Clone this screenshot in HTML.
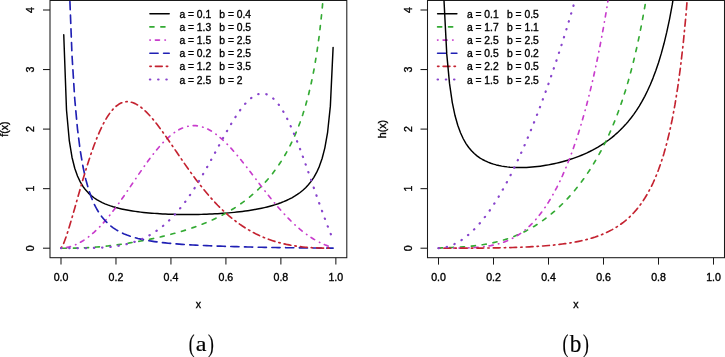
<!DOCTYPE html>
<html><head><meta charset="utf-8"><style>
html,body{margin:0;padding:0;background:#fff;}
svg{display:block;will-change:transform;}
</style></head><body>
<svg width="725" height="357" viewBox="0 0 725 357">
<rect width="725" height="357" fill="#fff"/>
<rect x="50" y="0.47" width="296.8" height="257.23" fill="none" stroke="#1a1a1a" stroke-width="1.05"/>
<line x1="61" y1="257.7" x2="61" y2="264.6" stroke="#1a1a1a" stroke-width="1.05"/>
<text x="61" y="281.3" font-family="'Liberation Sans', sans-serif" font-size="10.6" text-anchor="middle" stroke="#000" stroke-width="0.35">0.0</text>
<line x1="115.97" y1="257.7" x2="115.97" y2="264.6" stroke="#1a1a1a" stroke-width="1.05"/>
<text x="115.97" y="281.3" font-family="'Liberation Sans', sans-serif" font-size="10.6" text-anchor="middle" stroke="#000" stroke-width="0.35">0.2</text>
<line x1="170.94" y1="257.7" x2="170.94" y2="264.6" stroke="#1a1a1a" stroke-width="1.05"/>
<text x="170.94" y="281.3" font-family="'Liberation Sans', sans-serif" font-size="10.6" text-anchor="middle" stroke="#000" stroke-width="0.35">0.4</text>
<line x1="225.91" y1="257.7" x2="225.91" y2="264.6" stroke="#1a1a1a" stroke-width="1.05"/>
<text x="225.91" y="281.3" font-family="'Liberation Sans', sans-serif" font-size="10.6" text-anchor="middle" stroke="#000" stroke-width="0.35">0.6</text>
<line x1="280.88" y1="257.7" x2="280.88" y2="264.6" stroke="#1a1a1a" stroke-width="1.05"/>
<text x="280.88" y="281.3" font-family="'Liberation Sans', sans-serif" font-size="10.6" text-anchor="middle" stroke="#000" stroke-width="0.35">0.8</text>
<line x1="335.85" y1="257.7" x2="335.85" y2="264.6" stroke="#1a1a1a" stroke-width="1.05"/>
<text x="335.85" y="281.3" font-family="'Liberation Sans', sans-serif" font-size="10.6" text-anchor="middle" stroke="#000" stroke-width="0.35">1.0</text>
<line x1="50" y1="248.2" x2="43" y2="248.2" stroke="#1a1a1a" stroke-width="1.05"/>
<text x="34.4" y="248.2" font-family="'Liberation Sans', sans-serif" font-size="10.6" text-anchor="middle" stroke="#000" stroke-width="0.35" transform="rotate(-90 34.4 248.2)">0</text>
<line x1="50" y1="188.65" x2="43" y2="188.65" stroke="#1a1a1a" stroke-width="1.05"/>
<text x="34.4" y="188.65" font-family="'Liberation Sans', sans-serif" font-size="10.6" text-anchor="middle" stroke="#000" stroke-width="0.35" transform="rotate(-90 34.4 188.65)">1</text>
<line x1="50" y1="129.1" x2="43" y2="129.1" stroke="#1a1a1a" stroke-width="1.05"/>
<text x="34.4" y="129.1" font-family="'Liberation Sans', sans-serif" font-size="10.6" text-anchor="middle" stroke="#000" stroke-width="0.35" transform="rotate(-90 34.4 129.1)">2</text>
<line x1="50" y1="69.55" x2="43" y2="69.55" stroke="#1a1a1a" stroke-width="1.05"/>
<text x="34.4" y="69.55" font-family="'Liberation Sans', sans-serif" font-size="10.6" text-anchor="middle" stroke="#000" stroke-width="0.35" transform="rotate(-90 34.4 69.55)">3</text>
<line x1="50" y1="10" x2="43" y2="10" stroke="#1a1a1a" stroke-width="1.05"/>
<text x="34.4" y="10" font-family="'Liberation Sans', sans-serif" font-size="10.6" text-anchor="middle" stroke="#000" stroke-width="0.35" transform="rotate(-90 34.4 10)">4</text>
<text x="198.4" y="308" font-family="'Liberation Sans', sans-serif" font-size="10.6" text-anchor="middle" stroke="#000" stroke-width="0.35">x</text>
<text x="8.5" y="129.09" font-family="'Liberation Sans', sans-serif" font-size="10.6" text-anchor="middle" stroke="#000" stroke-width="0.35" transform="rotate(-90 8.5 129.09)">f(x)</text>
<rect x="427.5" y="0.47" width="297" height="257.23" fill="none" stroke="#1a1a1a" stroke-width="1.05"/>
<line x1="438.5" y1="257.7" x2="438.5" y2="264.6" stroke="#1a1a1a" stroke-width="1.05"/>
<text x="438.5" y="281.3" font-family="'Liberation Sans', sans-serif" font-size="10.6" text-anchor="middle" stroke="#000" stroke-width="0.35">0.0</text>
<line x1="493.5" y1="257.7" x2="493.5" y2="264.6" stroke="#1a1a1a" stroke-width="1.05"/>
<text x="493.5" y="281.3" font-family="'Liberation Sans', sans-serif" font-size="10.6" text-anchor="middle" stroke="#000" stroke-width="0.35">0.2</text>
<line x1="548.5" y1="257.7" x2="548.5" y2="264.6" stroke="#1a1a1a" stroke-width="1.05"/>
<text x="548.5" y="281.3" font-family="'Liberation Sans', sans-serif" font-size="10.6" text-anchor="middle" stroke="#000" stroke-width="0.35">0.4</text>
<line x1="603.5" y1="257.7" x2="603.5" y2="264.6" stroke="#1a1a1a" stroke-width="1.05"/>
<text x="603.5" y="281.3" font-family="'Liberation Sans', sans-serif" font-size="10.6" text-anchor="middle" stroke="#000" stroke-width="0.35">0.6</text>
<line x1="658.5" y1="257.7" x2="658.5" y2="264.6" stroke="#1a1a1a" stroke-width="1.05"/>
<text x="658.5" y="281.3" font-family="'Liberation Sans', sans-serif" font-size="10.6" text-anchor="middle" stroke="#000" stroke-width="0.35">0.8</text>
<line x1="713.5" y1="257.7" x2="713.5" y2="264.6" stroke="#1a1a1a" stroke-width="1.05"/>
<text x="713.5" y="281.3" font-family="'Liberation Sans', sans-serif" font-size="10.6" text-anchor="middle" stroke="#000" stroke-width="0.35">1.0</text>
<line x1="427.5" y1="248.2" x2="420.5" y2="248.2" stroke="#1a1a1a" stroke-width="1.05"/>
<text x="411.9" y="248.2" font-family="'Liberation Sans', sans-serif" font-size="10.6" text-anchor="middle" stroke="#000" stroke-width="0.35" transform="rotate(-90 411.9 248.2)">0</text>
<line x1="427.5" y1="188.65" x2="420.5" y2="188.65" stroke="#1a1a1a" stroke-width="1.05"/>
<text x="411.9" y="188.65" font-family="'Liberation Sans', sans-serif" font-size="10.6" text-anchor="middle" stroke="#000" stroke-width="0.35" transform="rotate(-90 411.9 188.65)">1</text>
<line x1="427.5" y1="129.1" x2="420.5" y2="129.1" stroke="#1a1a1a" stroke-width="1.05"/>
<text x="411.9" y="129.1" font-family="'Liberation Sans', sans-serif" font-size="10.6" text-anchor="middle" stroke="#000" stroke-width="0.35" transform="rotate(-90 411.9 129.1)">2</text>
<line x1="427.5" y1="69.55" x2="420.5" y2="69.55" stroke="#1a1a1a" stroke-width="1.05"/>
<text x="411.9" y="69.55" font-family="'Liberation Sans', sans-serif" font-size="10.6" text-anchor="middle" stroke="#000" stroke-width="0.35" transform="rotate(-90 411.9 69.55)">3</text>
<line x1="427.5" y1="10" x2="420.5" y2="10" stroke="#1a1a1a" stroke-width="1.05"/>
<text x="411.9" y="10" font-family="'Liberation Sans', sans-serif" font-size="10.6" text-anchor="middle" stroke="#000" stroke-width="0.35" transform="rotate(-90 411.9 10)">4</text>
<text x="576" y="308" font-family="'Liberation Sans', sans-serif" font-size="10.6" text-anchor="middle" stroke="#000" stroke-width="0.35">x</text>
<text x="386" y="129.09" font-family="'Liberation Sans', sans-serif" font-size="10.6" text-anchor="middle" stroke="#000" stroke-width="0.35" transform="rotate(-90 386 129.09)">h(x)</text>
<line x1="149.9" y1="13.8" x2="169.2" y2="13.8" stroke="#000000" stroke-width="1.45" stroke-linecap="round"/>
<text x="179.4" y="17.9" font-family="'Liberation Sans', sans-serif" font-size="10.3" text-anchor="start" stroke="#000" stroke-width="0.35" xml:space="preserve">a = 0.1</text>
<text x="219.3" y="17.9" font-family="'Liberation Sans', sans-serif" font-size="10.3" text-anchor="start" stroke="#000" stroke-width="0.35" xml:space="preserve">b = 0.4</text>
<line x1="149.9" y1="26.94" x2="169.2" y2="26.94" stroke="#33AA33" stroke-width="1.65" stroke-linecap="round" stroke-dasharray="4.11 6.85"/>
<text x="179.4" y="31.04" font-family="'Liberation Sans', sans-serif" font-size="10.3" text-anchor="start" stroke="#000" stroke-width="0.35" xml:space="preserve">a = 1.3</text>
<text x="219.3" y="31.04" font-family="'Liberation Sans', sans-serif" font-size="10.3" text-anchor="start" stroke="#000" stroke-width="0.35" xml:space="preserve">b = 0.5</text>
<line x1="149.9" y1="40.08" x2="169.2" y2="40.08" stroke="#C83CCC" stroke-width="1.65" stroke-linecap="round" stroke-dasharray="0.4 5.08 4.11 5.48"/>
<text x="179.4" y="44.18" font-family="'Liberation Sans', sans-serif" font-size="10.3" text-anchor="start" stroke="#000" stroke-width="0.35" xml:space="preserve">a = 1.5</text>
<text x="219.3" y="44.18" font-family="'Liberation Sans', sans-serif" font-size="10.3" text-anchor="start" stroke="#000" stroke-width="0.35" xml:space="preserve">b = 2.5</text>
<line x1="149.9" y1="53.22" x2="169.2" y2="53.22" stroke="#2020B4" stroke-width="1.65" stroke-linecap="round" stroke-dasharray="8.22 5.48"/>
<text x="179.4" y="57.32" font-family="'Liberation Sans', sans-serif" font-size="10.3" text-anchor="start" stroke="#000" stroke-width="0.35" xml:space="preserve">a = 0.2</text>
<text x="219.3" y="57.32" font-family="'Liberation Sans', sans-serif" font-size="10.3" text-anchor="start" stroke="#000" stroke-width="0.35" xml:space="preserve">b = 2.5</text>
<line x1="149.9" y1="66.36" x2="169.2" y2="66.36" stroke="#C42230" stroke-width="1.65" stroke-linecap="round" stroke-dasharray="1.37 4.11 6.85 4.11"/>
<text x="179.4" y="70.46" font-family="'Liberation Sans', sans-serif" font-size="10.3" text-anchor="start" stroke="#000" stroke-width="0.35" xml:space="preserve">a = 1.2</text>
<text x="219.3" y="70.46" font-family="'Liberation Sans', sans-serif" font-size="10.3" text-anchor="start" stroke="#000" stroke-width="0.35" xml:space="preserve">b = 3.5</text>
<line x1="149.9" y1="79.5" x2="169.2" y2="79.5" stroke="#8844CC" stroke-width="2.2" stroke-linecap="round" stroke-dasharray="0.4 7.82"/>
<text x="179.4" y="83.6" font-family="'Liberation Sans', sans-serif" font-size="10.3" text-anchor="start" stroke="#000" stroke-width="0.35" xml:space="preserve">a = 2.5</text>
<text x="219.3" y="83.6" font-family="'Liberation Sans', sans-serif" font-size="10.3" text-anchor="start" stroke="#000" stroke-width="0.35" xml:space="preserve">b = 2</text>
<line x1="437.6" y1="13.8" x2="456.9" y2="13.8" stroke="#000000" stroke-width="1.45" stroke-linecap="round"/>
<text x="466.9" y="17.9" font-family="'Liberation Sans', sans-serif" font-size="10.3" text-anchor="start" stroke="#000" stroke-width="0.35" xml:space="preserve">a = 0.1</text>
<text x="507" y="17.9" font-family="'Liberation Sans', sans-serif" font-size="10.3" text-anchor="start" stroke="#000" stroke-width="0.35" xml:space="preserve">b = 0.5</text>
<line x1="437.6" y1="26.94" x2="456.9" y2="26.94" stroke="#33AA33" stroke-width="1.65" stroke-linecap="round" stroke-dasharray="4.11 6.85"/>
<text x="466.9" y="31.04" font-family="'Liberation Sans', sans-serif" font-size="10.3" text-anchor="start" stroke="#000" stroke-width="0.35" xml:space="preserve">a = 1.7</text>
<text x="507" y="31.04" font-family="'Liberation Sans', sans-serif" font-size="10.3" text-anchor="start" stroke="#000" stroke-width="0.35" xml:space="preserve">b = 1.1</text>
<line x1="437.6" y1="40.08" x2="456.9" y2="40.08" stroke="#C83CCC" stroke-width="1.65" stroke-linecap="round" stroke-dasharray="0.4 5.08 4.11 5.48"/>
<text x="466.9" y="44.18" font-family="'Liberation Sans', sans-serif" font-size="10.3" text-anchor="start" stroke="#000" stroke-width="0.35" xml:space="preserve">a = 2.5</text>
<text x="507" y="44.18" font-family="'Liberation Sans', sans-serif" font-size="10.3" text-anchor="start" stroke="#000" stroke-width="0.35" xml:space="preserve">b = 2.5</text>
<line x1="437.6" y1="53.22" x2="456.9" y2="53.22" stroke="#2020B4" stroke-width="1.65" stroke-linecap="round" stroke-dasharray="8.22 5.48"/>
<text x="466.9" y="57.32" font-family="'Liberation Sans', sans-serif" font-size="10.3" text-anchor="start" stroke="#000" stroke-width="0.35" xml:space="preserve">a = 0.5</text>
<text x="507" y="57.32" font-family="'Liberation Sans', sans-serif" font-size="10.3" text-anchor="start" stroke="#000" stroke-width="0.35" xml:space="preserve">b = 0.2</text>
<line x1="437.6" y1="66.36" x2="456.9" y2="66.36" stroke="#C42230" stroke-width="1.65" stroke-linecap="round" stroke-dasharray="1.37 4.11 6.85 4.11"/>
<text x="466.9" y="70.46" font-family="'Liberation Sans', sans-serif" font-size="10.3" text-anchor="start" stroke="#000" stroke-width="0.35" xml:space="preserve">a = 2.2</text>
<text x="507" y="70.46" font-family="'Liberation Sans', sans-serif" font-size="10.3" text-anchor="start" stroke="#000" stroke-width="0.35" xml:space="preserve">b = 0.5</text>
<line x1="437.6" y1="79.5" x2="456.9" y2="79.5" stroke="#8844CC" stroke-width="2.2" stroke-linecap="round" stroke-dasharray="0.4 7.82"/>
<text x="466.9" y="83.6" font-family="'Liberation Sans', sans-serif" font-size="10.3" text-anchor="start" stroke="#000" stroke-width="0.35" xml:space="preserve">a = 1.5</text>
<text x="507" y="83.6" font-family="'Liberation Sans', sans-serif" font-size="10.3" text-anchor="start" stroke="#000" stroke-width="0.35" xml:space="preserve">b = 2.5</text>
<clipPath id="clipL"><rect x="50" y="0.47" width="296.8" height="257.23"/></clipPath>
<g clip-path="url(#clipL)" fill="none" stroke-linecap="round" stroke-linejoin="round">
<polyline points="63.75,34.69 66.5,109.98 69.25,140.29 71.99,157.24 74.74,168.25 77.49,176.05 80.24,181.89 82.99,186.45 85.74,190.1 88.48,193.11 91.23,195.63 93.98,197.77 96.73,199.6 99.48,201.2 102.23,202.6 104.98,203.83 107.72,204.93 110.47,205.91 113.22,206.78 115.97,207.57 118.72,208.29 121.47,208.93 124.22,209.52 126.96,210.06 129.71,210.54 132.46,210.99 135.21,211.4 137.96,211.77 140.71,212.11 143.45,212.42 146.2,212.7 148.95,212.95 151.7,213.19 154.45,213.4 157.2,213.59 159.95,213.76 162.69,213.91 165.44,214.04 168.19,214.16 170.94,214.26 173.69,214.34 176.44,214.41 179.19,214.46 181.93,214.5 184.68,214.52 187.43,214.53 190.18,214.53 192.93,214.51 195.68,214.47 198.43,214.43 201.17,214.36 203.92,214.29 206.67,214.19 209.42,214.09 212.17,213.96 214.92,213.82 217.66,213.67 220.41,213.5 223.16,213.31 225.91,213.1 228.66,212.87 231.41,212.62 234.16,212.36 236.9,212.07 239.65,211.75 242.4,211.41 245.15,211.05 247.9,210.66 250.65,210.23 253.4,209.78 256.14,209.29 258.89,208.76 261.64,208.2 264.39,207.59 267.14,206.93 269.89,206.22 272.63,205.45 275.38,204.62 278.13,203.71 280.88,202.73 283.63,201.66 286.38,200.48 289.13,199.2 291.87,197.77 294.62,196.2 297.37,194.44 300.12,192.48 302.87,190.25 305.62,187.72 308.37,184.79 311.11,181.38 313.86,177.33 316.61,172.43 319.36,166.34 322.11,158.49 324.86,147.85 327.6,132.26 330.35,106.15 333.1,47.39" stroke="#000000" stroke-width="1.45"/>
<polyline points="61,248.2 63.75,248.2 66.5,248.2 69.25,248.18 71.99,248.16 74.74,248.12 77.49,248.06 80.24,247.99 82.99,247.89 85.74,247.76 88.48,247.62 91.23,247.45 93.98,247.26 96.73,247.04 99.48,246.81 102.23,246.55 104.98,246.27 107.72,245.97 110.47,245.65 113.22,245.31 115.97,244.96 118.72,244.59 121.47,244.2 124.22,243.79 126.96,243.37 129.71,242.93 132.46,242.47 135.21,242 137.96,241.52 140.71,241.01 143.45,240.5 146.2,239.96 148.95,239.41 151.7,238.84 154.45,238.25 157.2,237.64 159.95,237.02 162.69,236.37 165.44,235.7 168.19,235.01 170.94,234.3 173.69,233.57 176.44,232.81 179.19,232.02 181.93,231.21 184.68,230.37 187.43,229.49 190.18,228.59 192.93,227.65 195.68,226.68 198.43,225.68 201.17,224.63 203.92,223.54 206.67,222.41 209.42,221.24 212.17,220.02 214.92,218.75 217.66,217.43 220.41,216.05 223.16,214.61 225.91,213.12 228.66,211.55 231.41,209.92 234.16,208.22 236.9,206.44 239.65,204.58 242.4,202.63 245.15,200.59 247.9,198.45 250.65,196.21 253.4,193.85 256.14,191.38 258.89,188.77 261.64,186.03 264.39,183.14 267.14,180.08 269.89,176.85 272.63,173.43 275.38,169.79 278.13,165.93 280.88,161.8 283.63,157.39 286.38,152.65 289.13,147.56 291.87,142.04 294.62,136.05 297.37,129.5 300.12,122.3 302.87,114.32 305.62,105.39 308.37,95.3 311.11,83.74 313.86,70.27 316.61,54.25 319.36,34.67 322.11,9.84 323.13,-2.53" stroke="#33AA33" stroke-width="1.65" stroke-dasharray="4.11 6.85" stroke-dashoffset="-1.5"/>
<polyline points="61,248.2 63.75,248 66.5,247.55 69.25,246.9 71.99,246.06 74.74,245.03 77.49,243.8 80.24,242.38 82.99,240.77 85.74,238.96 88.48,236.95 91.23,234.76 93.98,232.37 96.73,229.8 99.48,227.04 102.23,224.11 104.98,221.02 107.72,217.76 110.47,214.36 113.22,210.82 115.97,207.16 118.72,203.39 121.47,199.53 124.22,195.59 126.96,191.59 129.71,187.55 132.46,183.49 135.21,179.42 137.96,175.38 140.71,171.36 143.45,167.41 146.2,163.53 148.95,159.75 151.7,156.09 154.45,152.56 157.2,149.19 159.95,145.98 162.69,142.97 165.44,140.15 168.19,137.56 170.94,135.19 173.69,133.07 176.44,131.19 179.19,129.58 181.93,128.24 184.68,127.17 187.43,126.38 190.18,125.86 192.93,125.63 195.68,125.68 198.43,126 201.17,126.59 203.92,127.46 206.67,128.58 209.42,129.95 212.17,131.57 214.92,133.42 217.66,135.49 220.41,137.77 223.16,140.24 225.91,142.89 228.66,145.7 231.41,148.67 234.16,151.77 236.9,154.99 239.65,158.31 242.4,161.72 245.15,165.19 247.9,168.73 250.65,172.3 253.4,175.9 256.14,179.51 258.89,183.11 261.64,186.7 264.39,190.26 267.14,193.77 269.89,197.23 272.63,200.63 275.38,203.95 278.13,207.19 280.88,210.34 283.63,213.39 286.38,216.34 289.13,219.17 291.87,221.9 294.62,224.5 297.37,226.98 300.12,229.33 302.87,231.56 305.62,233.67 308.37,235.64 311.11,237.48 313.86,239.2 316.61,240.79 319.36,242.25 322.11,243.58 324.86,244.79 327.6,245.87 330.35,246.81 333.1,247.61" stroke="#C83CCC" stroke-width="1.65" stroke-dasharray="0.4 5.08 4.11 5.48"/>
<polyline points="69.76,-2.53 71.99,54.95 74.74,99.03 77.49,129 80.24,150.58 82.99,166.77 85.74,179.27 88.48,189.15 91.23,197.11 93.98,203.61 96.73,209 99.48,213.51 102.23,217.31 104.98,220.56 107.72,223.34 110.47,225.75 113.22,227.84 115.97,229.66 118.72,231.26 121.47,232.68 124.22,233.93 126.96,235.04 129.71,236.04 132.46,236.93 135.21,237.73 137.96,238.45 140.71,239.1 143.45,239.69 146.2,240.23 148.95,240.72 151.7,241.17 154.45,241.58 157.2,241.96 159.95,242.31 162.69,242.63 165.44,242.93 168.19,243.21 170.94,243.46 173.69,243.7 176.44,243.93 179.19,244.14 181.93,244.33 184.68,244.52 187.43,244.69 190.18,244.85 192.93,245.01 195.68,245.15 198.43,245.29 201.17,245.42 203.92,245.55 206.67,245.67 209.42,245.78 212.17,245.89 214.92,245.99 217.66,246.09 220.41,246.19 223.16,246.28 225.91,246.37 228.66,246.45 231.41,246.54 234.16,246.62 236.9,246.69 239.65,246.77 242.4,246.84 245.15,246.91 247.9,246.97 250.65,247.04 253.4,247.1 256.14,247.16 258.89,247.22 261.64,247.27 264.39,247.33 267.14,247.38 269.89,247.43 272.63,247.48 275.38,247.53 278.13,247.57 280.88,247.62 283.63,247.66 286.38,247.7 289.13,247.74 291.87,247.77 294.62,247.81 297.37,247.84 300.12,247.87 302.87,247.9 305.62,247.93 308.37,247.96 311.11,247.99 313.86,248.01 316.61,248.03 319.36,248.06 322.11,248.08 324.86,248.1 327.6,248.12 330.35,248.13 333.1,248.16" stroke="#2020B4" stroke-width="1.65" stroke-dasharray="8.22 5.48" stroke-dashoffset="-4"/>
<polyline points="61,248.2 63.75,243.25 66.5,235.73 69.25,227.07 71.99,217.77 74.74,208.15 77.49,198.42 80.24,188.77 82.99,179.33 85.74,170.2 88.48,161.48 91.23,153.23 93.98,145.52 96.73,138.39 99.48,131.87 102.23,125.99 104.98,120.75 107.72,116.17 110.47,112.25 113.22,108.97 115.97,106.32 118.72,104.29 121.47,102.85 124.22,101.99 126.96,101.66 129.71,101.85 132.46,102.52 135.21,103.63 137.96,105.16 140.71,107.06 143.45,109.31 146.2,111.88 148.95,114.71 151.7,117.8 154.45,121.1 157.2,124.58 159.95,128.21 162.69,131.98 165.44,135.84 168.19,139.78 170.94,143.77 173.69,147.79 176.44,151.83 179.19,155.86 181.93,159.87 184.68,163.85 187.43,167.77 190.18,171.64 192.93,175.43 195.68,179.14 198.43,182.76 201.17,186.29 203.92,189.72 206.67,193.04 209.42,196.26 212.17,199.36 214.92,202.35 217.66,205.23 220.41,207.99 223.16,210.64 225.91,213.17 228.66,215.59 231.41,217.9 234.16,220.1 236.9,222.19 239.65,224.17 242.4,226.05 245.15,227.83 247.9,229.51 250.65,231.09 253.4,232.59 256.14,233.99 258.89,235.31 261.64,236.54 264.39,237.7 267.14,238.77 269.89,239.77 272.63,240.7 275.38,241.57 278.13,242.36 280.88,243.09 283.63,243.76 286.38,244.38 289.13,244.93 291.87,245.44 294.62,245.89 297.37,246.29 300.12,246.65 302.87,246.96 305.62,247.23 308.37,247.46 311.11,247.65 313.86,247.81 316.61,247.93 319.36,248.03 322.11,248.1 324.86,248.15 327.6,248.18 330.35,248.19 333.1,248.2" stroke="#C42230" stroke-width="1.65" stroke-dasharray="1.37 4.11 6.85 4.11"/>
<polyline points="61,248.2 63.75,248.2 66.5,248.2 69.25,248.2 71.99,248.2 74.74,248.19 77.49,248.19 80.24,248.17 82.99,248.15 85.74,248.12 88.48,248.08 91.23,248.02 93.98,247.94 96.73,247.83 99.48,247.71 102.23,247.55 104.98,247.35 107.72,247.12 110.47,246.85 113.22,246.53 115.97,246.15 118.72,245.72 121.47,245.23 124.22,244.67 126.96,244.04 129.71,243.32 132.46,242.52 135.21,241.63 137.96,240.64 140.71,239.54 143.45,238.34 146.2,237.01 148.95,235.56 151.7,233.98 154.45,232.25 157.2,230.39 159.95,228.37 162.69,226.19 165.44,223.85 168.19,221.33 170.94,218.65 173.69,215.79 176.44,212.75 179.19,209.52 181.93,206.11 184.68,202.53 187.43,198.76 190.18,194.81 192.93,190.7 195.68,186.42 198.43,181.98 201.17,177.41 203.92,172.7 206.67,167.89 209.42,162.98 212.17,158 214.92,152.98 217.66,147.93 220.41,142.89 223.16,137.9 225.91,132.98 228.66,128.17 231.41,123.51 234.16,119.03 236.9,114.79 239.65,110.81 242.4,107.15 245.15,103.84 247.9,100.92 250.65,98.43 253.4,96.42 256.14,94.9 258.89,93.93 261.64,93.52 264.39,93.7 267.14,94.48 269.89,95.88 272.63,97.9 275.38,100.55 278.13,103.82 280.88,107.69 283.63,112.15 286.38,117.17 289.13,122.71 291.87,128.74 294.62,135.2 297.37,142.05 300.12,149.23 302.87,156.68 305.62,164.34 308.37,172.14 311.11,180.03 313.86,187.94 316.61,195.8 319.36,203.58 322.11,211.2 324.86,218.66 327.6,225.92 330.35,233.01 333.1,240.06" stroke="#8844CC" stroke-width="2.2" stroke-dasharray="0.4 7.82"/>
</g>
<clipPath id="clipR"><rect x="427.5" y="0.47" width="297" height="257.23"/></clipPath>
<g clip-path="url(#clipR)" fill="none" stroke-linecap="round" stroke-linejoin="round">
<polyline points="443.94,-2.53 444,0.48 446.75,53.88 449.5,83.38 452.25,102.31 455,115.54 457.75,125.31 460.5,132.82 463.25,138.76 466,143.56 468.75,147.49 471.5,150.76 474.25,153.51 477,155.83 479.75,157.81 482.5,159.5 485.25,160.95 488,162.19 490.75,163.25 493.5,164.15 496.25,164.92 499,165.56 501.75,166.1 504.5,166.55 507.25,166.9 510,167.17 512.75,167.37 515.5,167.5 518.25,167.57 521,167.58 523.75,167.53 526.5,167.43 529.25,167.27 532,167.07 534.75,166.81 537.5,166.51 540.25,166.17 543,165.78 545.75,165.34 548.5,164.86 551.25,164.33 554,163.76 556.75,163.14 559.5,162.47 562.25,161.76 565,160.99 567.75,160.18 570.5,159.31 573.25,158.38 576,157.4 578.75,156.36 581.5,155.25 584.25,154.07 587,152.83 589.75,151.51 592.5,150.11 595.25,148.63 598,147.06 600.75,145.39 603.5,143.62 606.25,141.73 609,139.73 611.75,137.6 614.5,135.33 617.25,132.91 620,130.33 622.75,127.56 625.5,124.6 628.25,121.42 631,118 633.75,114.32 636.5,110.35 639.25,106.05 642,101.39 644.75,96.33 647.5,90.8 650.25,84.75 653,78.1 655.75,70.78 658.5,62.67 661.25,53.64 664,43.55 666.75,32.19 669.5,19.33 672.25,4.65 673.42,-2.53" stroke="#000000" stroke-width="1.45"/>
<polyline points="438.5,248.2 441.25,247.85 444,247.78 446.75,247.69 449.5,247.59 452.25,247.48 455,247.35 457.75,247.2 460.5,247.04 463.25,246.85 466,246.64 468.75,246.4 471.5,246.13 474.25,245.83 477,245.5 479.75,245.13 482.5,244.73 485.25,244.28 488,243.78 490.75,243.24 493.5,242.65 496.25,242 499,241.3 501.75,240.54 504.5,239.72 507.25,238.84 510,237.88 512.75,236.86 515.5,235.77 518.25,234.61 521,233.36 523.75,232.04 526.5,230.64 529.25,229.16 532,227.58 534.75,225.93 537.5,224.18 540.25,222.34 543,220.4 545.75,218.37 548.5,216.25 551.25,214.02 554,211.68 556.75,209.24 559.5,206.69 562.25,204.02 565,201.24 567.75,198.33 570.5,195.3 573.25,192.13 576,188.83 578.75,185.37 581.5,181.77 584.25,178 587,174.05 589.75,169.92 592.5,165.59 595.25,161.05 598,156.28 600.75,151.27 603.5,145.98 606.25,140.4 609,134.5 611.75,128.26 614.5,121.63 617.25,114.57 620,107.05 622.75,99.02 625.5,90.41 628.25,81.16 631,71.19 633.75,60.43 636.5,48.75 639.25,36.06 642,22.22 644.75,7.06 646.33,-2.53" stroke="#33AA33" stroke-width="1.65" stroke-dasharray="4.11 6.85"/>
<polyline points="438.5,248.2 441.25,248.2 444,248.2 446.75,248.19 449.5,248.18 452.25,248.16 455,248.14 457.75,248.11 460.5,248.06 463.25,248.01 466,247.93 468.75,247.83 471.5,247.7 474.25,247.55 477,247.35 479.75,247.12 482.5,246.84 485.25,246.5 488,246.09 490.75,245.62 493.5,245.07 496.25,244.43 499,243.69 501.75,242.85 504.5,241.88 507.25,240.8 510,239.57 512.75,238.2 515.5,236.67 518.25,234.98 521,233.1 523.75,231.04 526.5,228.77 529.25,226.3 532,223.6 534.75,220.67 537.5,217.5 540.25,214.08 543,210.39 545.75,206.42 548.5,202.17 551.25,197.61 554,192.75 556.75,187.55 559.5,182.01 562.25,176.12 565,169.85 567.75,163.19 570.5,156.11 573.25,148.6 576,140.62 578.75,132.15 581.5,123.16 584.25,113.62 587,103.47 589.75,92.69 592.5,81.22 595.25,69.01 598,55.99 600.75,42.09 603.5,27.25 606.25,11.36 608.49,-2.53" stroke="#C83CCC" stroke-width="1.65" stroke-dasharray="0.4 5.08 4.11 5.48"/>
<polyline points="438.5,248.2 441.25,248.2 444,248.2 446.75,248.2 449.5,248.2 452.25,248.2 455,248.19 457.75,248.19 460.5,248.18 463.25,248.18 466,248.17 468.75,248.15 471.5,248.14 474.25,248.12 477,248.1 479.75,248.08 482.5,248.06 485.25,248.03 488,248 490.75,247.96 493.5,247.92 496.25,247.87 499,247.82 501.75,247.77 504.5,247.71 507.25,247.64 510,247.57 512.75,247.49 515.5,247.4 518.25,247.3 521,247.2 523.75,247.09 526.5,246.96 529.25,246.83 532,246.69 534.75,246.53 537.5,246.36 540.25,246.18 543,245.98 545.75,245.76 548.5,245.53 551.25,245.28 554,245.01 556.75,244.71 559.5,244.4 562.25,244.05 565,243.68 567.75,243.28 570.5,242.85 573.25,242.38 576,241.87 578.75,241.32 581.5,240.73 584.25,240.09 587,239.4 589.75,238.65 592.5,237.84 595.25,236.96 598,236 600.75,234.97 603.5,233.85 606.25,232.64 609,231.32 611.75,229.89 614.5,228.33 617.25,226.64 620,224.8 622.75,222.79 625.5,220.61 628.25,218.22 631,215.62 633.75,212.76 636.5,209.64 639.25,206.21 642,202.44 644.75,198.29 647.5,193.71 650.25,188.65 653,183.03 655.75,176.79 658.5,169.82 661.25,162.02 664,153.25 666.75,143.34 669.5,132.09 672.25,119.23 675,104.43 677.75,87.26 680.5,67.14 683.25,43.3 686,14.65 687.35,-2.53" stroke="#C42230" stroke-width="1.65" stroke-dasharray="1.37 4.11 6.85 4.11"/>
<polyline points="438.5,248.2 441.25,248.04 444,247.63 446.75,246.99 449.5,246.14 452.25,245.08 455,243.82 457.75,242.35 460.5,240.68 463.25,238.81 466,236.74 468.75,234.46 471.5,231.98 474.25,229.31 477,226.42 479.75,223.34 482.5,220.06 485.25,216.57 488,212.88 490.75,208.99 493.5,204.9 496.25,200.61 499,196.12 501.75,191.44 504.5,186.56 507.25,181.49 510,176.22 512.75,170.77 515.5,165.13 518.25,159.31 521,153.3 523.75,147.12 526.5,140.76 529.25,134.22 532,127.51 534.75,120.64 537.5,113.59 540.25,106.38 543,99.01 545.75,91.47 548.5,83.76 551.25,75.89 554,67.85 556.75,59.64 559.5,51.25 562.25,42.69 565,33.93 567.75,24.98 570.5,15.82 573.25,6.44 575.81,-2.53" stroke="#8844CC" stroke-width="2.2" stroke-dasharray="0.4 7.82"/>
</g>
<text transform="translate(188.7 351.6) scale(0.72 1)" x="0" y="0" font-family="'Liberation Serif', serif" font-size="24.5" stroke="#000" stroke-width="0.15">(</text>
<text transform="translate(195.8 351.1) scale(1.1 1)" x="0" y="0" font-family="'Liberation Serif', serif" font-size="22" stroke="#000" stroke-width="0.15">a</text>
<text transform="translate(207.9 351.6) scale(0.72 1)" x="0" y="0" font-family="'Liberation Serif', serif" font-size="24.5" stroke="#000" stroke-width="0.15">)</text>
<text transform="translate(562.6 351.6) scale(0.72 1)" x="0" y="0" font-family="'Liberation Serif', serif" font-size="24.5" stroke="#000" stroke-width="0.15">(</text>
<text transform="translate(569.8 351.5) scale(0.95 1)" x="0" y="0" font-family="'Liberation Serif', serif" font-size="24.5" stroke="#000" stroke-width="0.15">b</text>
<text transform="translate(583.1 351.6) scale(0.72 1)" x="0" y="0" font-family="'Liberation Serif', serif" font-size="24.5" stroke="#000" stroke-width="0.15">)</text>
</svg>
</body></html>
